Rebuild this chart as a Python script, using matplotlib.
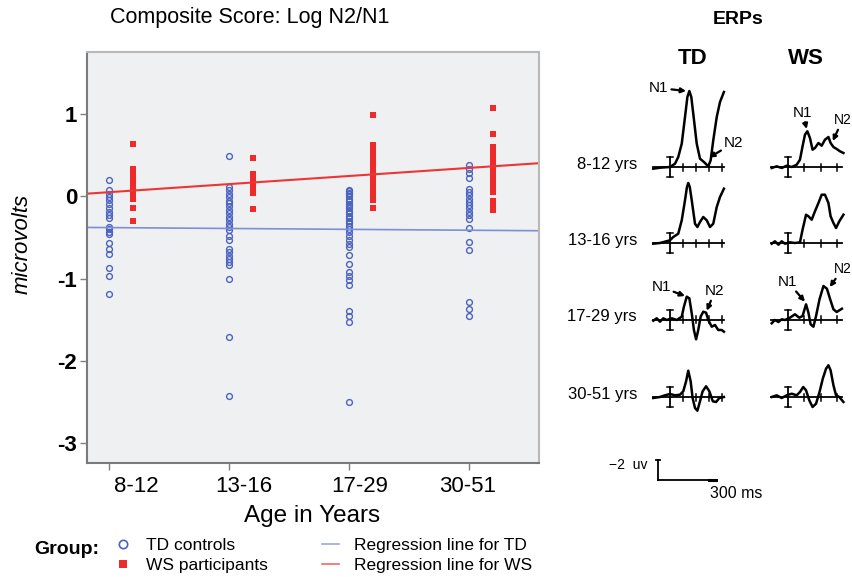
import numpy as np
import matplotlib
matplotlib.use("Agg")
from matplotlib import pyplot as plt
from matplotlib.lines import Line2D

plt.rcParams['font.family'] = ['Liberation Sans', 'DejaVu Sans']

# Composite score (log N2/N1), one list per age group
age_groups = ['8-12', '13-16', '17-29', '30-51']
td_8_12 = [0.20, 0.07, 0.03, -0.01, -0.05, -0.10, -0.14, -0.19, -0.23, -0.26,
           -0.37, -0.40, -0.43, -0.46, -0.57, -0.64, -0.70, -0.87, -0.97, -1.19]
ws_8_12 = [0.63, 0.33, 0.28, 0.24, 0.20, 0.13, 0.09, 0.05, 0.01, -0.04, -0.15, -0.30]
td_13_16 = [0.49, 0.11, 0.07, 0.03, -0.01, -0.06, -0.08, -0.12, -0.17, -0.21,
            -0.25, -0.29, -0.34, -0.38, -0.41, -0.49, -0.53, -0.64, -0.68, -0.73,
            -0.76, -0.80, -0.83, -1.01, -1.71, -2.43]
ws_13_16 = [0.46, 0.27, 0.22, 0.18, 0.14, 0.10, 0.04, -0.16]
td_17_29 = [0.08, 0.06, 0.04, 0.02, 0.0, -0.03, -0.06, -0.09, -0.12, -0.15,
            -0.18, -0.21, -0.24, -0.27, -0.30, -0.33, -0.36, -0.40, -0.44, -0.48,
            -0.53, -0.58, -0.62, -0.72, -0.82, -0.92, -0.97, -1.02, -1.08, -1.40,
            -1.45, -1.53, -2.50]
ws_17_29 = [0.99, 0.62, 0.57, 0.52, 0.47, 0.43, 0.38, 0.33, 0.28, 0.24, 0.20,
            0.16, 0.12, 0.08, 0.04, 0.0, -0.05, -0.15]
td_30_51 = [0.38, 0.33, 0.28, 0.22, 0.09, 0.05, 0.01, -0.03, -0.07, -0.11,
            -0.15, -0.19, -0.23, -0.28, -0.39, -0.56, -0.66, -1.28, -1.37, -1.46]
ws_30_51 = [1.07, 0.75, 0.60, 0.55, 0.50, 0.45, 0.40, 0.35, 0.30, 0.25, 0.20,
            0.15, 0.10, 0.05, -0.06, -0.11, -0.17]

# regression lines, value at left and right edge of the plot
reg_x = [0.817, 4.583]
reg_td = [-0.38, -0.42]
reg_ws = [0.03, 0.40]

# ERP grand averages (ms, microvolts; negative is drawn upward)
erp_td_8_12_t = [-77, -46, 0, 23, 38, 54, 69, 80, 89, 98, 107, 123, 138, 156, 176, 187, 199, 215, 230, 248]
erp_td_8_12_uv = [0.17, 0.07, 0.0, -0.33, -1.0, -2.33, -5.0, -7.0, -7.6, -7.0, -5.33, -2.33, -0.83, -0.5, -0.07, -0.67, -2.67, -5.0, -6.5, -7.5]
erp_td_13_16_t = [-77, -46, 0, 15, 38, 54, 69, 78, 84, 91, 100, 115, 126, 138, 153, 169, 184, 199, 215, 230, 248]
erp_td_13_16_uv = [0.07, 0.0, -0.27, -0.6, -0.93, -2.27, -4.27, -5.6, -6.0, -5.6, -4.27, -1.93, -1.6, -2.1, -2.6, -2.27, -1.6, -1.93, -3.6, -4.6, -5.43]
erp_td_17_29_t = [-77, -61, -46, -31, -15, 8, 31, 54, 64, 77, 89, 100, 110, 120, 130, 141, 153, 166, 176, 192, 207, 222, 238, 248]
erp_td_17_29_uv = [0.07, -0.17, 0.17, -0.17, 0.0, -0.17, 0.0, -0.33, -1.33, -2.33, -2.17, -0.67, 1.0, 1.93, 1.0, -0.33, -0.83, -0.73, 0.0, 0.67, 0.5, 1.0, 1.0, 1.17]
erp_td_30_51_t = [-77, -46, -23, 0, 23, 46, 61, 74, 84, 95, 104, 115, 126, 138, 150, 166, 181, 197, 212, 227, 248]
erp_td_30_51_uv = [0.1, 0.0, -0.17, -0.3, -0.17, -0.23, -0.57, -1.57, -2.63, -1.57, 0.1, 1.1, 1.37, 0.43, -0.57, -1.07, -0.57, 0.43, 0.5, 0.1, 0.0]
erp_ws_8_12_t = [-75, -52, -29, -6, 17, 40, 55, 67, 78, 89, 101, 113, 124, 140, 155, 170, 186, 196, 209, 224, 239, 255]
erp_ws_8_12_uv = [0.1, -0.07, 0.1, -0.13, 0.0, -0.23, -0.73, -2.07, -3.23, -3.57, -2.9, -1.73, -1.9, -2.4, -2.13, -2.73, -3.0, -2.4, -2.0, -1.8, -1.57, -1.4]
erp_ws_13_16_t = [-75, -60, -44, -29, -14, 9, 32, 55, 67, 83, 94, 109, 124, 140, 155, 170, 186, 196, 209, 221, 236, 255]
erp_ws_13_16_uv = [0.07, -0.17, 0.17, -0.17, 0.07, -0.07, 0.0, -0.07, -1.33, -2.83, -2.67, -2.33, -3.17, -4.0, -4.83, -4.83, -4.0, -2.67, -2.0, -1.5, -2.17, -2.83]
erp_ws_17_29_t = [-75, -60, -44, -29, -14, 9, 32, 52, 67, 83, 94, 104, 117, 129, 145, 163, 179, 194, 209, 224, 248]
erp_ws_17_29_uv = [0.33, 0.0, 0.2, -0.07, 0.0, -0.23, -0.57, -0.23, -0.4, -1.57, -0.73, 0.43, 0.67, -0.4, -2.07, -3.4, -3.13, -2.07, -1.07, -0.8, -1.13]
erp_ws_30_51_t = [-75, -52, -29, -6, 17, 40, 55, 70, 83, 98, 113, 129, 145, 160, 175, 186, 196, 209, 221, 236, 255]
erp_ws_30_51_uv = [0.0, -0.17, 0.1, -0.17, -0.33, -0.17, -0.5, -1.0, -0.67, 0.33, 1.0, 0.67, -0.5, -1.83, -2.83, -3.17, -2.67, -1.17, -0.17, 0.0, 0.5]

td_waves = [(erp_td_8_12_t, erp_td_8_12_uv), (erp_td_13_16_t, erp_td_13_16_uv),
            (erp_td_17_29_t, erp_td_17_29_uv), (erp_td_30_51_t, erp_td_30_51_uv)]
ws_waves = [(erp_ws_8_12_t, erp_ws_8_12_uv), (erp_ws_13_16_t, erp_ws_13_16_uv),
            (erp_ws_17_29_t, erp_ws_17_29_uv), (erp_ws_30_51_t, erp_ws_30_51_uv)]
row_labels = ['8-12 yrs', '13-16 yrs', '17-29 yrs', '30-51 yrs']

BLUE = '#4B63C2'
RED = '#EE2A2A'
W, H = 853, 577
MS_PER_PX = 4.6

fig = plt.figure(figsize=(W / 100, H / 100), dpi=100)


def px_axes(left, top, width, height):
    return fig.add_axes([left / W, 1 - (top + height) / H, width / W, height / H])


def px_text(x, y, s, **kw):
    return fig.text(x / W, 1 - y / H, s, **kw)


# ---- scatter plot ----
ax = px_axes(87, 52, 452, 411)
ax.set_facecolor('#EFF0F1')
td_all = [td_8_12, td_13_16, td_17_29, td_30_51]
ws_all = [ws_8_12, ws_13_16, ws_17_29, ws_30_51]
for i in range(len(age_groups)):
    ax.plot(np.full(len(td_all[i]), i + 1.0), td_all[i], 'o', mfc='none', mec=BLUE,
            ms=4.2, mew=1.0)
    ax.plot(np.full(len(ws_all[i]), i + 1.2), ws_all[i], 's', color=RED, ms=4.6, mew=0)
ax.plot(reg_x, reg_td, color='#7D8FD6', lw=1.2)
ax.plot(reg_x, reg_ws, color='#EE3535', lw=1.5)

ax.set_xlim(reg_x[0], reg_x[1])
ax.set_ylim(-3.24, 1.75)
ax.set_yticks([1, 0, -1, -2, -3])
ax.set_yticklabels(['1', '0', '-1', '-2', '-3'], fontsize=16, fontweight='bold')
ax.set_xticks([1, 2, 3, 4])
ax.set_xticklabels([])
ax.tick_params(length=5, color='#808080', width=1, pad=2)
for side in ['left', 'bottom']:
    ax.spines[side].set_color('#7A7A7A')
    ax.spines[side].set_linewidth(1.5)
for side in ['top', 'right']:
    ax.spines[side].set_color('#B8B8B8')
    ax.spines[side].set_linewidth(1.5)

label_shift = [0.23, 0.12, 0.09, -0.01]
for i, g in enumerate(age_groups):
    ax.text(i + 1 + label_shift[i], -0.056, g, transform=ax.get_xaxis_transform(),
            ha='center', va='center', fontsize=16)

px_text(312, 516, 'Age in Years', ha='center', va='center', fontsize=17.5)
px_text(22, 244, 'microvolts', rotation=90, ha='center', va='center',
        fontsize=16, fontstyle='italic')
px_text(110, 18, 'Composite Score: Log N2/N1', ha='left', va='center', fontsize=15.5)

# ---- legend ----
px_text(34, 549, 'Group:', ha='left', va='center', fontsize=14, fontweight='bold')
handles = [Line2D([], [], ls='none', marker='o', mfc='none', mec=BLUE, ms=6, mew=1.2),
           Line2D([], [], ls='none', marker='s', color=RED, ms=6, mew=0),
           Line2D([], [], color='#9BA6E0', lw=1.2),
           Line2D([], [], color='#F06A6A', lw=1.2)]
labels = ['TD controls', 'WS participants', 'Regression line for TD', 'Regression line for WS']
fig.legend(handles, labels, ncol=2, loc='upper left', bbox_to_anchor=(114 / W, 1 - 538 / H),
           frameon=False, fontsize=12.5, handlelength=1.0, handletextpad=0.85,
           columnspacing=3.1, labelspacing=0.25, borderpad=0, borderaxespad=0)

# ---- ERP panels ----
px_text(738, 20, 'ERPs', ha='center', va='center', fontsize=14, fontweight='bold')
px_text(693, 58, 'TD', ha='center', va='center', fontsize=16, fontweight='bold')
px_text(806, 58, 'WS', ha='center', va='center', fontsize=16, fontweight='bold')


def erp_axes(cal_px, base_px):
    a = px_axes(cal_px - 22, base_px - 85, 82, 110)
    a.set_xlim(-22 * MS_PER_PX, 60 * MS_PER_PX)
    a.set_ylim(2.5, -8.5)
    a.axis('off')
    return a


def draw_frame(a, ticks):
    a.plot([-80, 250], [0, 0], color='k', lw=1.3)
    for tt in ticks:
        a.plot([tt, tt], [-0.35, 0.35], color='k', lw=1.1)
    a.plot([0, 0], [-1, 1], color='k', lw=1.3)
    a.plot([-12, 12], [-1, -1], color='k', lw=1.1)
    a.plot([-12, 12], [1, 1], color='k', lw=1.1)


arrow = dict(arrowstyle='-|>', color='k', lw=1.6, mutation_scale=7, shrinkA=0, shrinkB=0)
row_base = [167, 243, 320, 397]
td_panels = []
ws_panels = []
for r in range(4):
    a = erp_axes(670, row_base[r])
    draw_frame(a, [60, 120, 180, 240])
    a.plot(td_waves[r][0], td_waves[r][1], color='k', lw=1.8, solid_joinstyle='round')
    td_panels.append(a)
    b = erp_axes(788, row_base[r])
    draw_frame(b, [75, 150, 225])
    b.plot(ws_waves[r][0], ws_waves[r][1], color='k', lw=1.8, solid_joinstyle='round')
    ws_panels.append(b)
    px_text(637, row_base[r] - 3, row_labels[r], ha='right', va='center', fontsize=12)

td_panels[0].annotate('N1', xy=(74, -7.6), xytext=(-51, -7.9), fontsize=11, ha='center',
                      va='center', arrowprops=arrow, annotation_clip=False)
td_panels[0].annotate('N2', xy=(181, -0.95), xytext=(292, -2.4), fontsize=11, ha='center',
                      va='center', arrowprops=arrow, annotation_clip=False)
td_panels[2].annotate('N1', xy=(69, -2.4), xytext=(-41, -3.3), fontsize=11, ha='center',
                      va='center', arrowprops=arrow, annotation_clip=False)
td_panels[2].annotate('N2', xy=(169, -0.93), xytext=(207, -2.9), fontsize=11, ha='center',
                      va='center', arrowprops=arrow, annotation_clip=False)
ws_panels[0].annotate('N1', xy=(86, -3.8), xytext=(67, -5.45), fontsize=11, ha='center',
                      va='center', arrowprops=arrow, annotation_clip=False)
ws_panels[0].annotate('N2', xy=(206, -2.6), xytext=(292, -4.7), fontsize=10, ha='right',
                      va='center', arrowprops=arrow, annotation_clip=False)
ws_panels[2].annotate('N1', xy=(78, -1.83), xytext=(-2, -3.83), fontsize=11, ha='center',
                      va='center', arrowprops=arrow, annotation_clip=False)
ws_panels[2].annotate('N2', xy=(192, -3.3), xytext=(292, -5.1), fontsize=10, ha='right',
                      va='center', arrowprops=arrow, annotation_clip=False)

# ---- scale bar ----
s = erp_axes(658, 480)
s.plot([0, 0], [0, -2], color='k', lw=1.3)
s.plot([-8, 8], [-2, -2], color='k', lw=1.3)
s.plot([0, 300], [0, 0], color='k', lw=1.3)
s.plot([235, 300], [0, 0], color='k', lw=2.2)
px_text(648, 465, '\u22122  uv', ha='right', va='center', fontsize=10)
px_text(710, 494, '300 ms', ha='left', va='center', fontsize=11.5)

plt.savefig('out.png', dpi=100)
